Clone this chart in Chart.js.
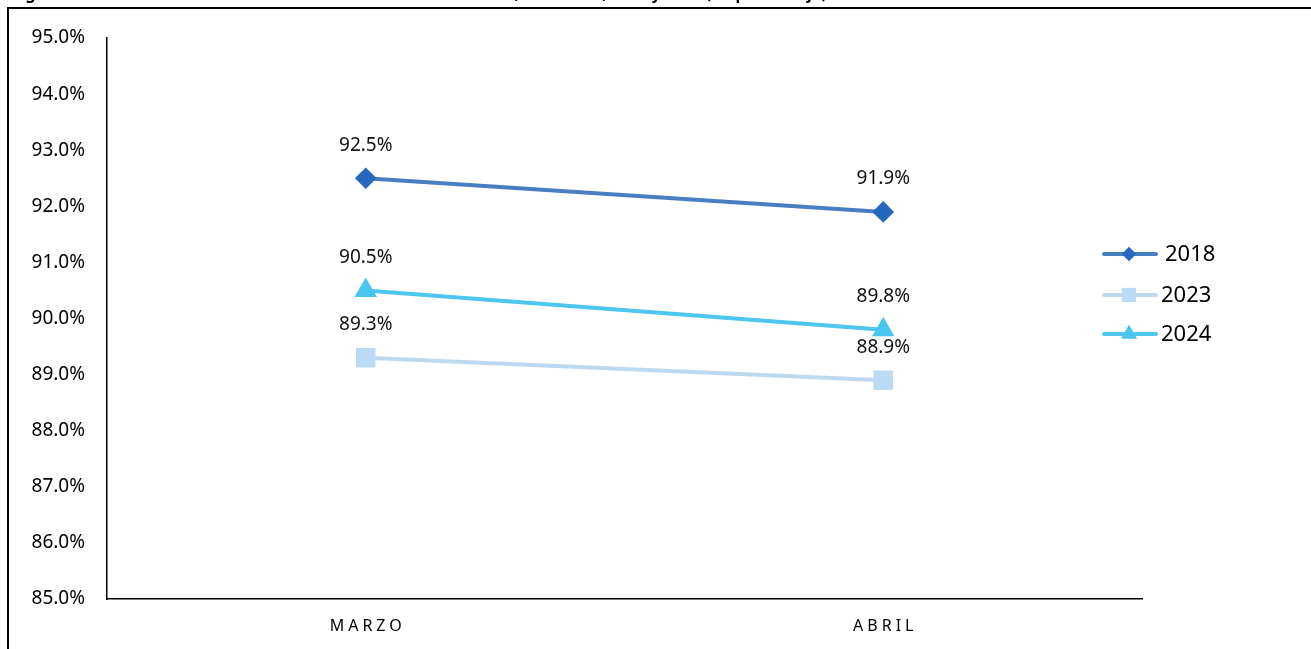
<!DOCTYPE html>
<html>
<head>
<meta charset="utf-8">
<script src="https://cdn.jsdelivr.net/npm/chart.js@4"></script>
<style>
  body { margin: 0; background: #fff; }
  canvas { display: block; }
</style>
</head>
<body>
<canvas id="myChart" width="1311" height="649"></canvas>
<script>
      // Data
      const meses = ['MARZO', 'ABRIL'];
      const serie2018 = [92.5, 91.9];
      const serie2023 = [89.3, 88.9];
      const serie2024 = [90.5, 89.8];
      const yTicks = [85, 86, 87, 88, 89, 90, 91, 92, 93, 94, 95];

      const titulo = 'Figura 1. Tasa de asistencia escolar en los meses de marzo-abril, años 2018, 2023 y 2024 (en porcentaje)';
      const fuente = '"Noto Sans", "Open Sans", sans-serif';

      const data = {
        labels: meses,
        datasets: [{
          label: '2018',
          data: serie2018,
          borderColor: '#4a7ec2',
          backgroundColor: '#2568be',
          pointBackgroundColor: '#2568be',
          pointBorderColor: '#2568be',
          pointStyle: 'rectRot',
          pointRadius: 8,
          legendRadius: 7
        }, {
          label: '2023',
          data: serie2023,
          borderColor: '#bdd9f1',
          backgroundColor: '#bbdaf4',
          pointBackgroundColor: '#bbdaf4',
          pointBorderColor: '#bbdaf4',
          pointStyle: 'rect',
          pointRadius: 11,
          legendRadius: 10
        }, {
          label: '2024',
          data: serie2024,
          borderColor: '#4dc7ef',
          backgroundColor: '#49c6f0',
          pointBackgroundColor: '#49c6f0',
          pointBorderColor: '#49c6f0',
          pointStyle: 'triangle',
          pointRadius: 9,
          legendRadius: 9
        }]
      };

      // frame, title, data labels, x labels and legend
      const extras = {
        id: 'extras',
        afterDraw: (chart) => {
          const ctx = chart.ctx;
          ctx.save();

          // outer frame
          ctx.strokeStyle = '#000';
          ctx.lineWidth = 2;
          ctx.strokeRect(8, 8, 1400, 700);

          // title (cut off at top of picture)
          ctx.fillStyle = '#000';
          ctx.font = 'bold 16px ' + fuente;
          ctx.textAlign = 'left';
          ctx.textBaseline = 'alphabetic';
          ctx.fillText(titulo, 12, -1);

          // data labels
          ctx.font = '19px ' + fuente;
          ctx.fillStyle = '#111';
          ctx.textAlign = 'center';
          ctx.textBaseline = 'middle';
          chart.data.datasets.forEach((ds, i) => {
            chart.getDatasetMeta(i).data.forEach((pt, j) => {
              ctx.fillText(ds.data[j].toFixed(1) + '%', pt.x, pt.y - 33);
            });
          });

          // x labels with letter spacing
          const xs = chart.scales.x;
          ctx.font = '16px ' + fuente;
          ctx.letterSpacing = '4px';
          ctx.fillStyle = '#000';
          meses.forEach((m, i) => {
            ctx.fillText(m, xs.getPixelForTick(i) + 2, 626);
          });
          ctx.letterSpacing = '0px';

          // legend
          const legY = [254, 295, 334];
          ctx.font = '22px ' + fuente;
          ctx.textAlign = 'left';
          chart.data.datasets.forEach((ds, i) => {
            const y = legY[i];
            ctx.strokeStyle = ds.borderColor;
            ctx.lineWidth = 4;
            ctx.lineCap = 'round';
            ctx.beginPath();
            ctx.moveTo(1104, y);
            ctx.lineTo(1156, y);
            ctx.stroke();
            ctx.fillStyle = ds.pointBackgroundColor;
            Chart.helpers.drawPoint(ctx, {pointStyle: ds.pointStyle, radius: ds.legendRadius, borderWidth: 0}, 1129, y);
            ctx.fill();
            ctx.fillStyle = '#000';
            ctx.fillText(ds.label, i === 0 ? 1165 : 1161, y + 1);
          });

          ctx.restore();
        }
      };

      // Config Block
      const config = {
        type: 'line',
        data: data,
        options: {
          responsive: false,
          animation: false,
          borderWidth: 4,
          layout: {
            padding: {left: 10, right: 169, top: 38, bottom: 10}
          },
          elements: {
            line: {borderWidth: 4, tension: 0}
          },
          plugins: {
            legend: {display: false},
            tooltip: {enabled: false}
          },
          scales: {
            x: {
              offset: true,
              grid: {display: false, drawTicks: false},
              border: {display: true, color: '#000', width: 1.5},
              ticks: {display: false},
              afterFit: (scale) => { scale.height = 40; }
            },
            y: {
              min: 85,
              max: 95,
              afterBuildTicks: (scale) => {
                scale.ticks = yTicks.map(v => ({value: v}));
              },
              grid: {display: false, drawTicks: false},
              border: {display: true, color: '#000', width: 1.5},
              ticks: {
                color: '#000',
                padding: 22,
                font: {family: fuente, size: 19},
                callback: (v) => v.toFixed(1) + '%'
              },
              afterFit: (scale) => { scale.width = 97; }
            }
          }
        },
        plugins: [extras]
      };

      // Render block
      const myChart = new Chart(
        document.getElementById('myChart'),
        config
      );
</script>
</body>
</html>
